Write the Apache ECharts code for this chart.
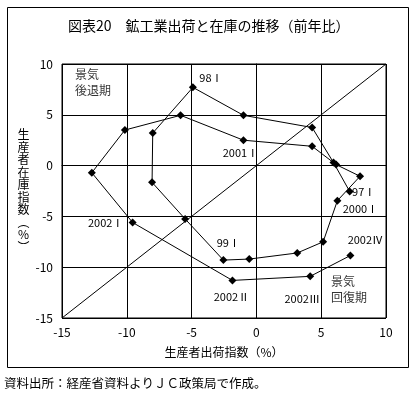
<!DOCTYPE html>
<html><head><meta charset="utf-8">
<script src="https://cdn.jsdelivr.net/npm/echarts@6/dist/echarts.min.js"></script>
<style>html,body{margin:0;padding:0;background:#fff;}#c{width:419px;height:394px;}</style>
</head><body><div id="c"></div>
<script>
// Quarterly data, 97 I .. 2002 IV (year-on-year %)
const quarters = ['97Ⅰ','97Ⅱ','97Ⅲ','97Ⅳ','98Ⅰ','98Ⅱ','98Ⅲ','98Ⅳ','99Ⅰ','99Ⅱ','99Ⅲ','99Ⅳ',
  '2000Ⅰ','2000Ⅱ','2000Ⅲ','2000Ⅳ','2001Ⅰ','2001Ⅱ','2001Ⅲ','2001Ⅳ','2002Ⅰ','2002Ⅱ','2002Ⅲ','2002Ⅳ'];
const shipments = [7.2, 5.95, 4.3, -1.0, -4.9, -8.0, -8.05, -5.5, -2.55, -0.55, 3.15, 5.15,
  6.25, 8.0, 6.15, 4.3, -1.0, -5.85, -10.15, -12.7, -9.55, -1.85, 4.15, 7.25];
const inventory = [-2.55, 0.3, 3.75, 4.95, 7.7, 3.2, -1.65, -5.25, -9.3, -9.2, -8.6, -7.5,
  -3.45, -1.05, 0.1, 1.9, 2.5, 4.95, 3.5, -0.7, -5.6, -11.3, -10.9, -8.85];
const pointLabels = {0:'97Ⅰ',4:'98Ⅰ',8:'99Ⅰ',12:'2000Ⅰ',16:'2001Ⅰ',20:'2002Ⅰ',21:'2002Ⅱ',22:'2002Ⅲ',23:'2002Ⅳ'};
const labelOffsets = {0:[14,0],4:[18,-10],8:[5,-17],12:[23,8],16:[-3,13],20:[-27,0],21:[-1,16],22:[-8,22],23:[15,-16]};
const xTicks = [-15,-10,-5,0,5,10];
const yTicks = [-15,-10,-5,0,5,10];
const diagonal = [[-15,-15],[10,10]];
const phaseNotes = [[-14.0, 8.15, '景気\n後退期'], [5.75, -12.15, '景気\n回復期']];

const FONT = '"Noto Sans CJK JP", sans-serif';
const chart = echarts.init(document.getElementById('c'), null, {renderer:'canvas'});

const mainData = shipments.map((x,i)=>{
  const d = {value:[x, inventory[i]]};
  if (pointLabels[i]) {
    d.label = {show:true, formatter:pointLabels[i], position:'inside', offset:labelOffsets[i],
      color:'#000', fontSize:11, fontFamily:FONT};
  }
  return d;
});

chart.setOption({
  animation:false,
  backgroundColor:'#fff',
  title:{text:'図表20　鉱工業出荷と在庫の推移（前年比）', left:63, top:14,
    textStyle:{fontSize:14, fontWeight:'normal', color:'#000', fontFamily:FONT}},
  grid:{left:62, top:64, width:324, height:254, show:true, borderColor:'#000', borderWidth:1},
  xAxis:{type:'value', min:xTicks[0], max:xTicks[xTicks.length-1], interval:5,
    name:'生産者出荷指数（%）', nameLocation:'middle', nameGap:28,
    nameTextStyle:{fontSize:12, color:'#000', fontFamily:FONT},
    axisLine:{show:true, lineStyle:{color:'#000'}}, axisTick:{show:false},
    axisLabel:{color:'#000', fontSize:12, fontFamily:FONT, margin:8},
    splitLine:{show:true, lineStyle:{color:'#000', width:1}}},
  yAxis:{type:'value', min:yTicks[0], max:yTicks[yTicks.length-1], interval:5,
    name:'生\n産\n者\n在\n庫\n指\n数\n︵\n%\n︶', nameLocation:'middle', nameGap:35, nameRotate:0,
    nameTextStyle:{fontSize:12, lineHeight:12.5, color:'#000', fontFamily:FONT, align:'center'},
    axisLine:{show:true, lineStyle:{color:'#000'}}, axisTick:{show:false},
    axisLabel:{color:'#000', fontSize:12, fontFamily:FONT, margin:9},
    splitLine:{show:true, lineStyle:{color:'#000', width:1}}},
  series:[
    {type:'line', data:diagonal, symbol:'none', lineStyle:{color:'#000', width:1}, silent:true},
    {type:'line', data:mainData, symbol:'diamond', symbolSize:8,
      itemStyle:{color:'#000'}, lineStyle:{color:'#000', width:1}},
    {type:'scatter', data:phaseNotes.map(p=>({value:[p[0],p[1]], name:p[2]})), symbolSize:0,
      label:{show:true, position:'inside', align:'left', formatter:p=>p.name, color:'#000',
        fontSize:12, lineHeight:16, fontFamily:FONT}}
  ],
  graphic:[
    {type:'rect', shape:{x:7.5, y:7.5, width:401, height:360}, style:{fill:null, stroke:'#000', lineWidth:1}, z:-1},
    {type:'text', left:4, top:377, style:{text:'資料出所：経産省資料よりＪＣ政策局で作成。', fill:'#000', fontSize:12.5, fontFamily:FONT}}
  ]
});
</script></body></html>
